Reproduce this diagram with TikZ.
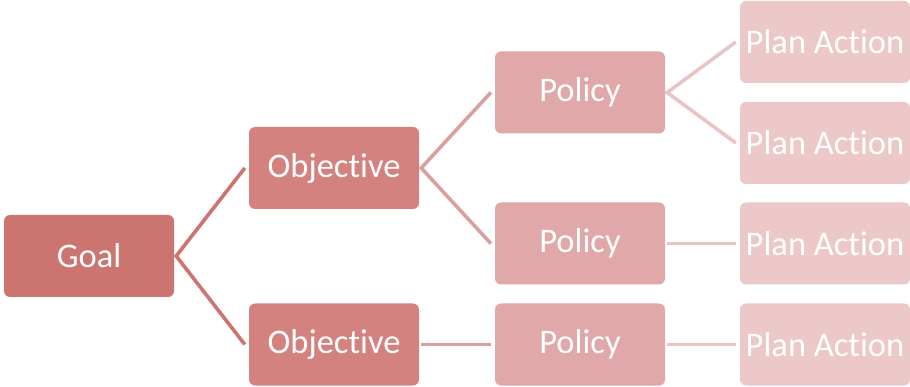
\documentclass[tikz,border=0pt]{standalone}
\usepackage{fontspec}
\setmainfont[Ligatures=NoCommon]{Carlito}
\definecolor{cgoal}{RGB}{204,116,112}
\definecolor{cobj}{RGB}{212,130,128}
\definecolor{cpol}{RGB}{224,168,168}
\definecolor{cplan}{RGB}{236,200,200}
\definecolor{lgoal}{RGB}{204,116,112}
\definecolor{lobj}{RGB}{217,160,160}
\definecolor{lpol}{RGB}{232,196,196}
\tikzset{
  box/.style={rounded corners=6pt, minimum width=170pt, minimum height=82pt,
    inner sep=0pt, text=white, font=\fontsize{34.5}{41}\selectfont},
  goalbox/.style={box, fill=cgoal},
  objbox/.style={box, fill=cobj},
  polbox/.style={box, fill=cpol},
  planbox/.style={box, fill=cplan},
  link/.style={line width=3.6pt}
}
\begin{document}
\begin{tikzpicture}[x=1pt,y=-1pt]
\useasboundingbox (0,0) rectangle (910,387);
\node[goalbox] (goal) at (89,256) {Goal};
\node[objbox] (obj1) at (334,168) {Objective};
\node[objbox] (obj2) at (334,344.5) {Objective};
\node[polbox] (pol1) at (580,92.5) {Policy};
\node[polbox] (pol2) at (580,243.5) {Policy};
\node[polbox] (pol3) at (580,344.5) {Policy};
\node[planbox] (pa1) at (825,42) {Plan Action};
\node[planbox] (pa2) at (825,143) {Plan Action};
\node[planbox] (pa3) at (825,243.5) {Plan Action};
\node[planbox] (pa4) at (825,344.5) {Plan Action};
\draw[link, lgoal] ([xshift=-4pt]obj1.west) -- ([xshift=2pt]goal.east) -- ([xshift=-4pt]obj2.west);
\draw[link, lobj] ([xshift=-4pt]pol1.west) -- ([xshift=2pt]obj1.east) -- ([xshift=-4pt]pol2.west);
\draw[link, lobj] ([xshift=2pt]obj2.east) -- ([xshift=-4pt]pol3.west);
\draw[link, lpol] ([xshift=-4pt]pa1.west) -- ([xshift=2pt]pol1.east) -- ([xshift=-4pt]pa2.west);
\draw[link, lpol] ([xshift=2pt]pol2.east) -- ([xshift=-4pt]pa3.west);
\draw[link, lpol] ([xshift=2pt]pol3.east) -- ([xshift=-4pt]pa4.west);
\end{tikzpicture}
\end{document}
